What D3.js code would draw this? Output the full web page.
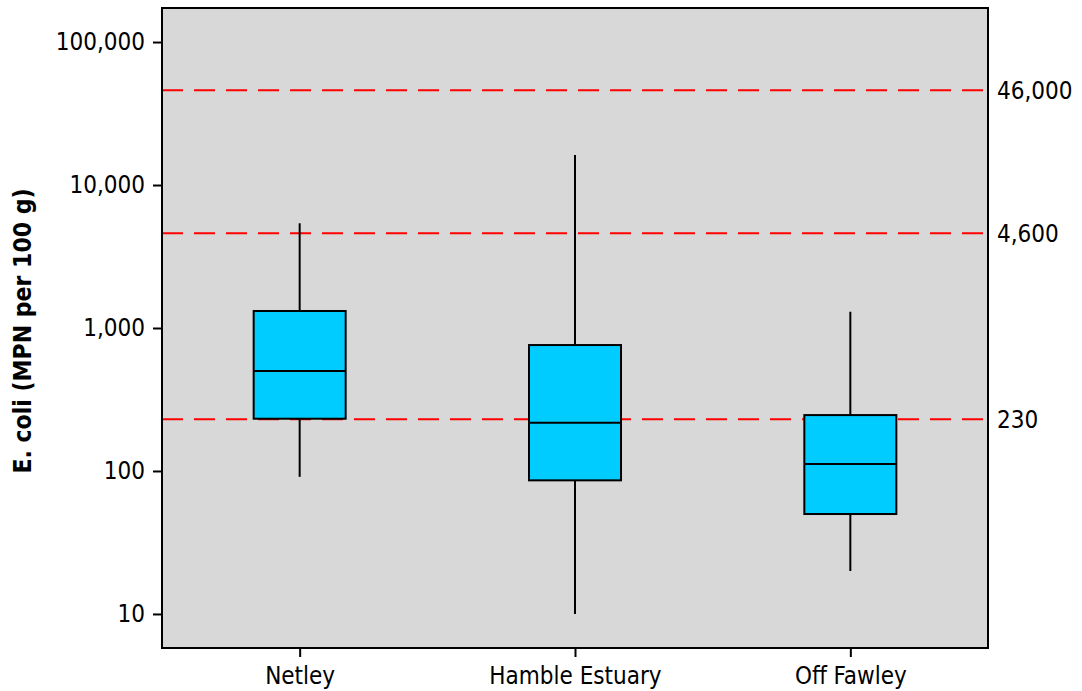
<!DOCTYPE html>
<html>
<head>
<meta charset="utf-8">
<title>E. coli box plot</title>
<script src="https://cdn.jsdelivr.net/npm/d3@7"></script>
<style>
  body { margin: 0; background: #fff; }
  text { font-family: "DejaVu Sans Condensed", "DejaVu Sans", sans-serif; font-stretch: condensed; }
</style>
</head>
<body>
<script>
// data
var sites = ["Netley", "Hamble Estuary", "Off Fawley"];
var whiskerLow = [91, 10, 20];
var q1 = [232, 86, 50];
var median = [500, 217, 112];
var q3 = [1315, 760, 246];
var whiskerHigh = [5400, 16200, 1300];
var refLines = [230, 4600, 46000];
var refLabels = ["230", "4,600", "46,000"];
var yTicks = [10, 100, 1000, 10000, 100000];

var width = 1082, height = 691;
var plotLeft = 162, plotRight = 988, plotTop = 8, plotBottom = 648;

var svg = d3.select("body").append("svg")
    .attr("width", width)
    .attr("height", height);

var x = d3.scalePoint()
    .domain(sites)
    .range([plotLeft, plotRight])
    .padding(0.5);

var y = d3.scaleLog()
    .domain([5.78, 173000])
    .range([plotBottom, plotTop]);

// plot background
svg.append("rect")
    .attr("x", plotLeft).attr("y", plotTop)
    .attr("width", plotRight - plotLeft).attr("height", plotBottom - plotTop)
    .attr("fill", "#d8d8d8");

// reference lines
svg.selectAll(".ref")
    .data(refLines)
    .enter().append("line")
    .attr("x1", plotLeft).attr("x2", plotRight)
    .attr("y1", function (d) { return y(d); })
    .attr("y2", function (d) { return y(d); })
    .attr("stroke", "#ff0000")
    .attr("stroke-width", 2)
    .attr("stroke-dasharray", "21,11");

svg.selectAll(".reflabel")
    .data(refLines)
    .enter().append("text")
    .attr("x", plotRight + 9)
    .attr("y", function (d) { return y(d); })
    .attr("dy", "0.36em")
    .attr("font-size", 24)
    .text(function (d, i) { return refLabels[i]; });

var boxW = 92;
var boxes = svg.selectAll(".box")
    .data(sites)
    .enter().append("g");

// whiskers
boxes.append("line")
    .attr("x1", function (d) { return x(d); })
    .attr("x2", function (d) { return x(d); })
    .attr("y1", function (d, i) { return y(whiskerHigh[i]); })
    .attr("y2", function (d, i) { return y(whiskerLow[i]); })
    .attr("stroke", "#000")
    .attr("stroke-width", 2);

boxes.append("rect")
    .attr("x", function (d) { return x(d) - boxW / 2; })
    .attr("y", function (d, i) { return y(q3[i]); })
    .attr("width", boxW)
    .attr("height", function (d, i) { return y(q1[i]) - y(q3[i]); })
    .attr("fill", "#00ccff")
    .attr("stroke", "#000")
    .attr("stroke-width", 2);

boxes.append("line")
    .attr("x1", function (d) { return x(d) - boxW / 2; })
    .attr("x2", function (d) { return x(d) + boxW / 2; })
    .attr("y1", function (d, i) { return y(median[i]); })
    .attr("y2", function (d, i) { return y(median[i]); })
    .attr("stroke", "#000")
    .attr("stroke-width", 2);

// frame
svg.append("rect")
    .attr("x", plotLeft).attr("y", plotTop)
    .attr("width", plotRight - plotLeft).attr("height", plotBottom - plotTop)
    .attr("fill", "none")
    .attr("stroke", "#000")
    .attr("stroke-width", 2);

// axes
var yAxis = svg.append("g")
    .attr("transform", "translate(" + (plotLeft - 1) + ",0)")
    .call(d3.axisLeft(y).tickValues(yTicks).tickFormat(d3.format(",")).tickSizeOuter(0).tickSizeInner(8).tickPadding(8));
yAxis.select(".domain").remove();
yAxis.selectAll("line").attr("stroke-width", 2);
yAxis.selectAll("text").attr("font-size", 24).attr("fill", "#000")
    .style("font-family", "'DejaVu Sans Condensed', 'DejaVu Sans', sans-serif");

var xAxis = svg.append("g")
    .attr("transform", "translate(0," + (plotBottom + 1) + ")")
    .call(d3.axisBottom(x).tickSizeOuter(0).tickSizeInner(8).tickPadding(10));
xAxis.select(".domain").remove();
xAxis.selectAll("line").attr("stroke-width", 2);
xAxis.selectAll("text").attr("font-size", 24).attr("fill", "#000")
    .style("font-family", "'DejaVu Sans Condensed', 'DejaVu Sans', sans-serif");

// y title
svg.append("text")
    .attr("transform", "translate(31," + 331 + ") rotate(-90)")
    .attr("text-anchor", "middle")
    .attr("font-size", 24.5)
    .attr("font-weight", "bold")
    .text("E. coli (MPN per 100 g)");
</script>
</body>
</html>
